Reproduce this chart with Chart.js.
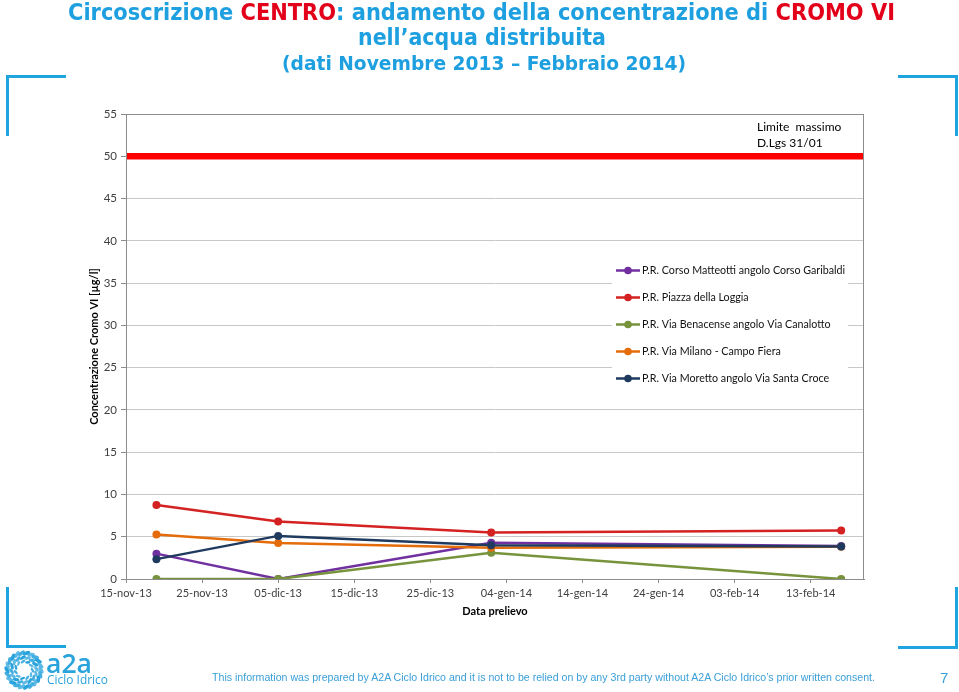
<!DOCTYPE html>
<html><head><meta charset="utf-8">
<script src="https://cdn.jsdelivr.net/npm/chart.js@4.4.1/dist/chart.umd.min.js"></script>
<style>
html,body{margin:0;padding:0;background:#fff;}
#page{position:relative;width:959px;height:692px;overflow:hidden;background:#fff;}
#c{position:absolute;left:0;top:0;}
.t{position:absolute;white-space:nowrap;transform-origin:0 0;line-height:1;}
.title{font-family:"DejaVu Sans Condensed","DejaVu Sans",sans-serif;font-weight:bold;color:#1e9fdf;}
.red{color:#e3001b;}
.corner{position:absolute;border-color:#1ea5e0;border-style:solid;border-width:0;box-sizing:border-box;}
.foot{font-family:"Liberation Sans",Arial,sans-serif;color:#3a9fd8;}
.logo{font-family:"Open Sans","DejaVu Sans",sans-serif;color:#29a3dc;}
</style></head><body>
<div id="page">
<canvas id="c" width="959" height="692"></canvas>
<div class="t title" data-x="68" data-w="827" style="top:1px;font-size:23px;">Circoscrizione <span class="red">CENTRO</span>: andamento della concentrazione di <span class="red">CROMO VI</span></div>
<div class="t title" data-x="358" data-w="248" style="top:26px;font-size:23px;">nell’acqua distribuita</div>
<div class="t title" data-x="282" data-w="404" style="top:53px;font-size:20px;">(dati Novembre 2013 – Febbraio 2014)</div>

<div class="corner" style="left:6px;top:75px;width:60px;height:61px;border-left-width:3px;border-top-width:3px;"></div>
<div class="corner" style="left:898px;top:75px;width:60px;height:61px;border-right-width:3px;border-top-width:3px;"></div>
<div class="corner" style="left:6px;top:587px;width:60px;height:61px;border-left-width:3px;border-bottom-width:3px;"></div>
<div class="corner" style="left:898px;top:587px;width:60px;height:62px;border-right-width:3px;border-bottom-width:3px;"></div>

<svg id="emblem" style="position:absolute;left:4px;top:650px;" width="40" height="40" viewBox="0 0 40 40"></svg>
<div class="t logo" data-x="46" data-w="46" style="top:649px;font-size:27px;font-weight:600;">a2a</div>
<div class="t logo" data-x="47" data-w="61" style="top:673px;font-size:13px;">Ciclo Idrico</div>

<div class="t foot" data-x="212" data-w="663" style="top:672px;font-size:11px;">This information was prepared by A2A Ciclo Idrico and it is not to be relied on by any 3rd party without A2A Ciclo Idrico’s prior written consent.</div>
<div class="t foot" style="left:940px;top:670px;font-size:15px;">7</div>
</div>
<script>
// ---------------- DATA ----------------
const seriesNames = [
  "P.R. Corso Matteotti angolo Corso Garibaldi",
  "P.R. Piazza della Loggia",
  "P.R. Via Benacense angolo Via Canalotto",
  "P.R. Via Milano - Campo Fiera",
  "P.R. Via Moretto angolo Via Santa Croce"
];
const sampleDates = ["2013-11-19", "2013-12-05", "2014-01-02", "2014-02-17"];
const corsoMatteotti = [3.0, 0, 4.3, 3.9];
const piazzaLoggia   = [8.75, 6.8, 5.5, 5.75];
const viaBenacense   = [0, 0, 3.1, 0];
const viaMilano      = [5.25, 4.25, 3.7, 3.8];
const viaMoretto     = [2.35, 5.1, 4.0, 3.85];
const limitValue = 50;
const limitLabel = ["Limite  massimo", "D.Lgs 31/01"];
const axisStartDate = "2013-11-15";
const axisEndDate = "2014-02-20";
const xTickStepDays = 10;
const yTicks = {min: 0, max: 55, step: 5};
const monthNames = ["gen","feb","mar","apr","mag","giu","lug","ago","set","ott","nov","dic"];
const yTitle = "Concentrazione Cromo VI [µg/l]";
const xTitle = "Data prelievo";

// ---------------- HELPERS ----------------
function toUTC(s){ const [y,m,d] = s.split("-").map(Number); return Date.UTC(y, m-1, d); }
const DAY = 86400000;
const t0 = toUTC(axisStartDate);
function dayIndex(s){ return Math.round((toUTC(s) - t0) / DAY); }
function fmtDay(v){
  const d = new Date(t0 + v * DAY);
  const dd = String(d.getUTCDate()).padStart(2,"0");
  const yy = String(d.getUTCFullYear()).slice(2);
  return dd + "-" + monthNames[d.getUTCMonth()] + "-" + yy;
}

// fit text boxes
document.querySelectorAll(".t[data-w]").forEach(el => {
  const w = el.getBoundingClientRect().width;
  const target = +el.dataset.w;
  el.style.left = el.dataset.x + "px";
  el.style.transform = "scaleX(" + (target / w) + ")";
});

// emblem
(function(){
  const svg = document.getElementById("emblem");
  let s = "";
  for (let r = 0; r < 3; r++) {
    const rad = [17, 12.5, 8.5][r], n = [22, 16, 11][r], sz = [2.6, 2.2, 1.8][r];
    for (let i = 0; i < n; i++) {
      const a = (i / n) * Math.PI * 2 + r * 0.3;
      const cx = 20 + rad * Math.cos(a), cy = 20 + rad * Math.sin(a);
      s += `<ellipse cx="${cx.toFixed(2)}" cy="${cy.toFixed(2)}" rx="${(sz*1.5).toFixed(2)}" ry="${(sz*0.7).toFixed(2)}" transform="rotate(${(a*180/Math.PI+60).toFixed(1)} ${cx.toFixed(2)} ${cy.toFixed(2)})" fill="#29a3dc" opacity="${0.75 + 0.25*((i%3)/2)}"/>`;
    }
  }
  svg.innerHTML = s;
})();

// ---------------- CHART ----------------
const seriesValues = [corsoMatteotti, piazzaLoggia, viaBenacense, viaMilano, viaMoretto];
const seriesColors = ["#7030a0", "#d42222", "#77933c", "#e46c0a", "#1f3a5f"];
const datasets = seriesValues.map((vals, i) => ({
  label: seriesNames[i],
  data: vals.map((v, j) => ({x: dayIndex(sampleDates[j]), y: v})),
  borderColor: seriesColors[i],
  backgroundColor: seriesColors[i],
  borderWidth: 2.5,
  pointRadius: 4,
  pointBorderWidth: 0,
  tension: 0,
  order: seriesValues.length - i
}));
datasets.push({
  label: "limit",
  data: [{x: 0, y: limitValue}, {x: dayIndex(axisEndDate), y: limitValue}],
  borderColor: "#ff0000",
  borderWidth: 6.5,
  pointRadius: 0,
  order: 10,
  isLimit: true
});

const overlay = {
  id: "overlay",
  afterDatasetsDraw(chart){
    const {ctx, chartArea: a} = chart;
    ctx.save();
    // plot border
    ctx.strokeStyle = "#8c8c8c";
    ctx.lineWidth = 1;
    ctx.strokeRect(a.left + 0.5, a.top + 0.5, a.right - a.left - 1, a.bottom - a.top);
    // limit label
    ctx.fillStyle = "#000";
    ctx.font = "12px Lato";
    ctx.textBaseline = "middle";
    ctx.textAlign = "left";
    const yl = chart.scales.y.getPixelForValue(limitValue);
    ctx.fillText(limitLabel[0], 757, yl - 29);
    ctx.fillText(limitLabel[1], 757, yl - 13);
    // legend
    const L = {x: 612, y: 258, w: 236, h: 132, first: 270.5, step: 27};
    ctx.fillStyle = "#fff";
    ctx.fillRect(L.x, L.y, L.w, L.h);
    ctx.font = "10.7px Lato";
    chart.data.datasets.forEach((ds, i) => {
      if (ds.isLimit) return;
      const y = L.first + i * L.step;
      ctx.strokeStyle = ds.borderColor;
      ctx.lineWidth = 2.5;
      ctx.beginPath(); ctx.moveTo(616, y); ctx.lineTo(640, y); ctx.stroke();
      ctx.fillStyle = ds.borderColor;
      ctx.beginPath(); ctx.arc(628, y, 3.8, 0, Math.PI * 2); ctx.fill();
      ctx.fillStyle = "#111";
      ctx.fillText(ds.label, 642, y);
    });
    ctx.restore();
  }
};

new Chart(document.getElementById("c"), {
  type: "line",
  data: {datasets},
  plugins: [overlay],
  options: {
    responsive: false,
    animation: false,
    layout: {padding: {left: 84, top: 114, right: 95, bottom: 68}},
    plugins: {legend: {display: false}, tooltip: {enabled: false}},
    scales: {
      x: {
        type: "linear",
        min: 0, max: dayIndex(axisEndDate),
        afterFit(s){ s.height = 45; },
        ticks: {stepSize: xTickStepDays, includeBounds: false, autoSkip: false, maxRotation: 0,
                padding: 4, color: "#404040", font: {family: "Lato", size: 11},
                callback: v => fmtDay(v)},
        grid: {drawOnChartArea: false, drawTicks: true, tickLength: 4, color: "#8c8c8c"},
        border: {display: true, color: "#8c8c8c"},
        title: {display: true, text: xTitle, color: "#000", font: {family: "Lato", size: 11, weight: "bold"}, padding: {top: 0, bottom: 6}}
      },
      y: {
        min: yTicks.min, max: yTicks.max,
        afterFit(s){ s.width = 42; },
        ticks: {stepSize: yTicks.step, padding: 4, color: "#404040", font: {family: "Lato", size: 11.5}},
        grid: {color: "#c8c8c8", tickColor: "#8c8c8c", tickLength: 5},
        border: {display: true, color: "#8c8c8c"},
        title: {display: true, text: yTitle, color: "#000", font: {family: "Lato", size: 11, weight: "bold"}, padding: {top: 4, bottom: 0}}
      }
    }
  }
});
</script>
</body></html>
